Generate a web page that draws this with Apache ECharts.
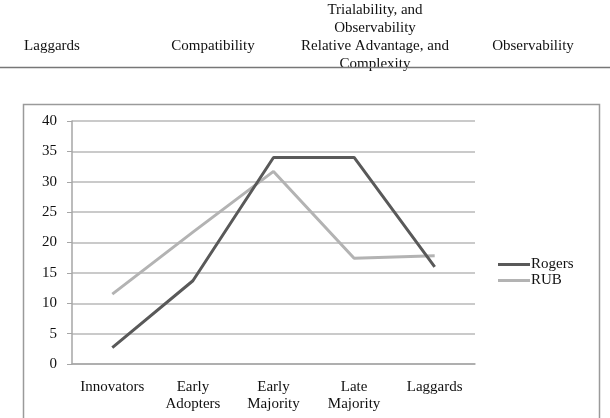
<!DOCTYPE html>
<html>
<head>
<meta charset="utf-8">
<script src="https://cdn.jsdelivr.net/npm/echarts@6/dist/echarts.min.js"></script>
<style>
  html, body { margin: 0; padding: 0; background: #fff; }
  #chart { width: 610px; height: 418px; }
</style>
</head>
<body>
<div id="chart"></div>
<script>
(function (window) {
    'use strict';
    var serif = '"Liberation Serif", "DejaVu Serif", serif';

    // data
    var categories = ['Innovators', 'Early\nAdopters', 'Early\nMajority', 'Late\nMajority', 'Laggards'];
    var rogers = [2.7, 13.7, 34, 34, 16];
    var rub = [11.5, 21.7, 31.7, 17.4, 17.8];
    var seriesNames = ['Rogers', 'RUB'];
    var headerCells = ['Laggards', 'Compatibility', 'Trialability, and\nObservability\nRelative Advantage, and\nComplexity', 'Observability'];
    var headerX = [52, 213, 375, 533];

    //表头文字
    var header = headerCells.map(function (t, i) {
        var lines = t.split('\n').length;
        return {
            type: 'text',
            x: headerX[i], y: lines > 1 ? 1 : 37,
            style: { text: t, font: '15px ' + serif, fill: '#111', align: 'center', lineHeight: 18 }
        };
    });

    var option = {
        animation: false,
        color: ['#595959', '#b3b3b3'],
        graphic: header.concat([
            { type: 'line', shape: { x1: 0, y1: 67.5, x2: 610, y2: 67.5 }, style: { stroke: '#777', lineWidth: 1.5 } },
            { type: 'rect', shape: { x: 23.5, y: 104.5, width: 576, height: 330 }, style: { fill: 'none', stroke: '#9a9a9a', lineWidth: 1.5 }, z: -1 }
        ]),
        legend: {
            orient: 'vertical', left: 498, top: 257, padding: 0,
            icon: 'rect', itemWidth: 32, itemHeight: 3, itemGap: 1,
            textStyle: { fontFamily: serif, fontSize: 15, color: '#111', padding: [0, 0, 0, -4] },
            data: seriesNames
        },
        grid: { left: 72, right: 135, top: 121, bottom: 54 },
        xAxis: {
            type: 'category', data: categories, boundaryGap: true,
            axisLine: { lineStyle: { color: '#a6a6a6', width: 1.5 } },
            axisTick: { length: 5, lineStyle: { color: '#a6a6a6' } },
            axisLabel: { fontFamily: serif, fontSize: 15, color: '#111', margin: 15, lineHeight: 17, interval: 0 }
        },
        yAxis: {
            type: 'value', min: 0, max: 40, interval: 5,
            axisLine: { show: true, lineStyle: { color: '#a6a6a6', width: 1.5 } },
            axisTick: { show: true, length: 5, lineStyle: { color: '#a6a6a6' } },
            splitLine: { lineStyle: { color: '#b8b8b8', width: 1.5 } },
            axisLabel: { fontFamily: serif, fontSize: 15, color: '#111', margin: 15 }
        },
        series: [
            { name: seriesNames[0], type: 'line', data: rogers, symbol: 'none', lineStyle: { width: 3 }, z: 3 },
            { name: seriesNames[1], type: 'line', data: rub, symbol: 'none', lineStyle: { width: 3 }, z: 2 }
        ]
    };

    var et = echarts.init(document.getElementById('chart'));
    et.setOption(option);
})(window);
</script>
</body>
</html>
